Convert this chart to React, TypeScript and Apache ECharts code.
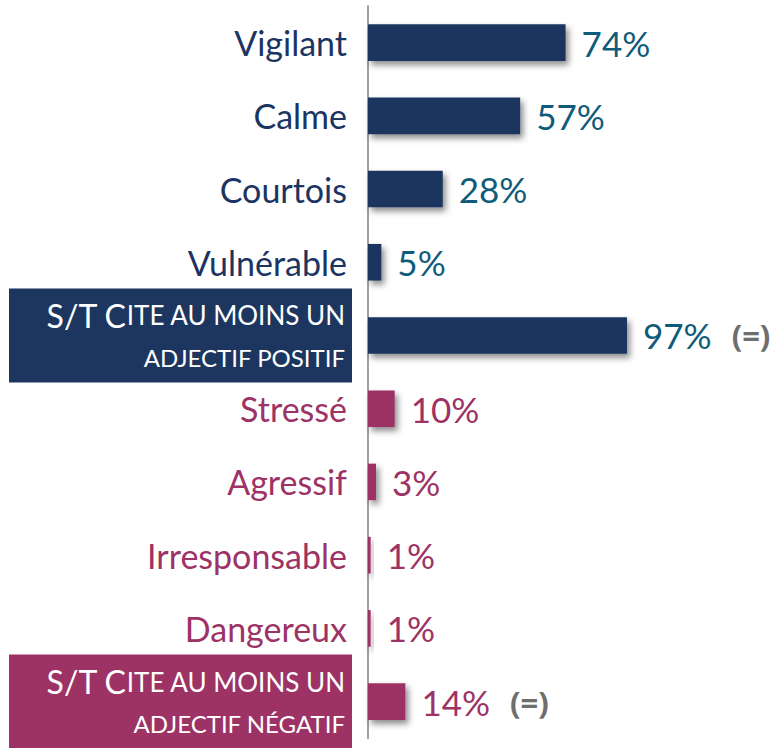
import React, { useEffect, useRef } from "react";
import * as echarts from "echarts";

const categories = [
  "Vigilant",
  "Calme",
  "Courtois",
  "Vulnérable",
  "S/T Cite au moins un adjectif positif",
  "Stressé",
  "Agressif",
  "Irresponsable",
  "Dangereux",
  "S/T Cite au moins un adjectif négatif",
];
const values = [74, 57, 28, 5, 97, 10, 3, 1, 1, 14];
const groups = ["pos", "pos", "pos", "pos", "pos", "neg", "neg", "neg", "neg", "neg"];
const isTotal = [false, false, false, false, true, false, false, false, false, true];
const evolutions = ["", "", "", "", "(=)", "", "", "", "", "(=)"];

const NAVY = "#1d365f";
const NAVY_TEXT = "#1b3461";
const TEAL = "#0f5b7a";
const PINK = "#9c3364";
const FONT = "Lato, 'Open Sans', sans-serif";

export default function App() {
  const ref = useRef<HTMLDivElement>(null);
  useEffect(() => {
    if (!ref.current) return;
    const chart = echarts.init(ref.current, null, { renderer: "svg" });

    const yData = categories.map((c, i) => {
      const col = groups[i] === "pos" ? NAVY_TEXT : PINK;
      if (!isTotal[i]) {
        return { value: c, textStyle: { color: col } };
      }
      return {
        value: c,
        textStyle: {
          backgroundColor: groups[i] === "pos" ? NAVY : PINK,
          padding: [6, 7, 4, 0],
          width: 336,
          align: "right",
        },
      };
    });

    chart.setOption({
      animation: false,
      grid: { left: 368, right: 144, top: 6, bottom: -2, containLabel: false },
      xAxis: { type: "value", min: 0, max: 100, show: false },
      yAxis: {
        type: "category",
        inverse: true,
        data: yData,
        axisLine: { show: true, lineStyle: { color: "#a0a0a0", width: 2 } },
        axisTick: { show: false },
        axisLabel: {
          margin: 16,
          padding: [0, 5, 0, 0],
          fontFamily: FONT,
          fontSize: 34,
          formatter: (v: string) => {
            const idx = categories.indexOf(v);
            if (!isTotal[idx]) return v;
            const rest = v.slice(5);
            const words = rest.split(" ");
            const line1 = words.slice(0, 4).join(" ").toUpperCase();
            const line2 = words.slice(4).join(" ").toUpperCase();
            return `{big|${v.slice(0, 5)}}{sm1|${line1}}\n{sm2|${line2}}`;
          },
          rich: {
            big: { fontFamily: FONT, fontSize: 32, color: "#ffffff", lineHeight: 42 },
            sm1: { fontFamily: FONT, fontSize: 26, color: "#ffffff", lineHeight: 42 },
            sm2: { fontFamily: FONT, fontSize: 24, color: "#ffffff", lineHeight: 42 },
          },
        },
        splitLine: { show: false },
      },
      series: [
        {
          type: "bar",
          barCategoryGap: "50%",
          data: values.map((v, i) => ({
            value: v,
            itemStyle: {
              color: groups[i] === "pos" ? NAVY : PINK,
              shadowColor: "rgba(0,0,0,0.45)",
              shadowBlur: 6,
              shadowOffsetX: 3,
              shadowOffsetY: 4,
            },
          })),
          label: {
            show: true,
            position: "right",
            distance: 16,
            formatter: (p: any) => {
              const i = p.dataIndex;
              const key = groups[i];
              const ev = evolutions[i];
              return `{${key}|${values[i]}%}` + (ev ? `{gap| }{eq|${ev}}` : "");
            },
            rich: {
              pos: { fontFamily: FONT, fontSize: 35, color: TEAL },
              neg: { fontFamily: FONT, fontSize: 35, color: PINK },
              gap: { fontFamily: FONT, fontSize: 35, width: 20 },
              eq: { fontFamily: "'Open Sans', sans-serif", fontSize: 31, fontWeight: "bold", color: "#6e6e6e" },
            },
          },
        },
      ],
    });
    return () => chart.dispose();
  }, []);
  return (
    <div
      ref={ref}
      style={{ position: "absolute", left: 0, top: 0, width: 779, height: 748 }}
    />
  );
}
